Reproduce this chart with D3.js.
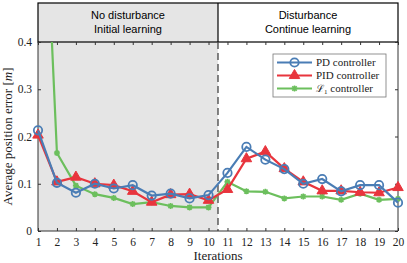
<!DOCTYPE html>
<html>
<head>
<meta charset="utf-8">
<script src="https://cdn.jsdelivr.net/npm/d3@7"></script>
<style>
  body { margin: 0; background: #fff; }
  svg { display: block; }
</style>
</head>
<body>
<div id="chart"></div>
<script>
// iterations and average position error per controller
var iterations = d3.range(1, 21);
var pdErr  = [0.213, 0.102, 0.081, 0.100, 0.090, 0.097, 0.075, 0.079, 0.069, 0.076,
              0.123, 0.178, 0.151, 0.131, 0.100, 0.110, 0.084, 0.097, 0.097, 0.060];
var pidErr = [0.203, 0.104, 0.114, 0.100, 0.097, 0.084, 0.061, 0.077, 0.078, 0.065,
              0.088, 0.153, 0.168, 0.132, 0.104, 0.085, 0.085, 0.082, 0.081, 0.092];
var l1Err  = [1.05, 0.165, 0.096, 0.078, 0.070, 0.057, 0.061, 0.053, 0.050, 0.050,
              0.104, 0.084, 0.083, 0.069, 0.073, 0.073, 0.066, 0.079, 0.066, 0.068];
var yTicks = [0, 0.1, 0.2, 0.3, 0.4];
var phaseLabels = [["No disturbance", "Initial learning"], ["Disturbance", "Continue learning"]];
var seriesNames = ["PD controller", "PID controller", "controller"];

var W = 407, H = 263;
var margin = {top: 42, right: 9, bottom: 32, left: 38},
    width = W - margin.left - margin.right,
    height = H - margin.top - margin.bottom;

var serif = "'Liberation Serif', 'DejaVu Serif', serif";
var sans = "'Liberation Sans', Arial, sans-serif";

var svg = d3.select("#chart").append("svg")
    .attr("width", W)
    .attr("height", H);

var g = svg.append("g")
    .attr("transform", "translate(" + margin.left + "," + margin.top + ")");

var x = d3.scaleLinear().domain([1, 20]).range([0, width]);
var y = d3.scaleLinear().domain([0, 0.4]).range([height, 0]);

var split = 10.5;

// gray background for first phase
g.append("rect")
    .attr("x", 0).attr("y", 0)
    .attr("width", x(split)).attr("height", height)
    .attr("fill", "#e5e5e5");

// header boxes
var headTop = 3 - margin.top;
var head = g.append("g");
head.append("rect")
    .attr("x", 0).attr("y", headTop)
    .attr("width", x(split)).attr("height", -headTop)
    .attr("fill", "#e5e5e5");
head.append("rect")
    .attr("x", 0).attr("y", headTop)
    .attr("width", width).attr("height", -headTop)
    .attr("fill", "none").attr("stroke", "#000").attr("stroke-width", 1.2);
head.append("line")
    .attr("x1", x(split)).attr("x2", x(split))
    .attr("y1", headTop).attr("y2", 0)
    .attr("stroke", "#000").attr("stroke-width", 1.2);
var centers = [x(split) / 2, (x(split) + width) / 2];
phaseLabels.forEach(function(lines, i) {
  lines.forEach(function(t, j) {
    head.append("text")
      .attr("x", centers[i])
      .attr("y", headTop + 16 + j * 14)
      .attr("text-anchor", "middle")
      .style("font-family", sans)
      .style("font-size", "11px")
      .text(t);
  });
});

// dashed separator
g.append("line")
    .attr("x1", x(split)).attr("x2", x(split))
    .attr("y1", 0).attr("y2", height)
    .attr("stroke", "#444").attr("stroke-width", 1.3)
    .attr("stroke-dasharray", "7,4");

// axes
var axisStyle = function(sel) {
  sel.select(".domain").remove();
  sel.selectAll("line").attr("stroke", "#333");
  sel.selectAll("text")
    .style("font-family", serif)
    .style("font-size", "11.5px")
    .attr("fill", "#222");
};

g.append("g")
    .attr("transform", "translate(0," + height + ")")
    .call(d3.axisBottom(x).tickValues(iterations).tickFormat(d3.format("d"))
          .tickSizeInner(-3).tickSizeOuter(0).tickPadding(7))
    .call(axisStyle);

g.append("g")
    .call(d3.axisTop(x).tickValues(iterations).tickFormat("")
          .tickSizeInner(-3).tickSizeOuter(0))
    .call(axisStyle);

g.append("g")
    .call(d3.axisLeft(y).tickValues(yTicks).tickFormat(function(d) { return d === 0 ? "0" : d3.format(".1f")(d); })
          .tickSizeInner(-3).tickSizeOuter(0).tickPadding(6))
    .call(axisStyle);

g.append("g")
    .attr("transform", "translate(" + width + ",0)")
    .call(d3.axisRight(y).tickValues(yTicks).tickFormat("")
          .tickSizeInner(-3).tickSizeOuter(0))
    .call(axisStyle);

// plot frame
g.append("path")
    .attr("d", "M0,0V" + height + "H" + width + "V0")
    .attr("fill", "none").attr("stroke", "#333").attr("stroke-width", 1);

// clip
svg.append("defs").append("clipPath").attr("id", "clip")
  .append("rect").attr("x", -6).attr("y", 0).attr("width", width + 12).attr("height", height + 6);

var plot = g.append("g").attr("clip-path", "url(#clip)");

var series = [
  {name: seriesNames[0], values: pdErr,  color: "#4a7db5", marker: "circle"},
  {name: seriesNames[1], values: pidErr, color: "#e8353d", marker: "triangle"},
  {name: seriesNames[2], values: l1Err,  color: "#6cbf5d", marker: "star"}
];

var line = d3.line()
    .x(function(d, i) { return x(iterations[i]); })
    .y(function(d) { return y(d); });

function drawMarker(sel, s) {
  if (s.marker === "circle") {
    sel.append("circle").attr("r", 4.2)
      .attr("fill", "none").attr("stroke", s.color).attr("stroke-width", 1.8);
  } else if (s.marker === "triangle") {
    sel.append("path").attr("d", d3.symbol(d3.symbolTriangle, 48)())
      .attr("fill", s.color).attr("stroke", s.color).attr("stroke-width", 1);
  } else {
    sel.append("path").attr("d", "M-3,0H3M0,-3V3M-2.2,-2.2L2.2,2.2M-2.2,2.2L2.2,-2.2")
      .attr("stroke", s.color).attr("stroke-width", 1.6).attr("fill", "none");
  }
}

// draw green first, then red, then blue
[series[2], series[1], series[0]].forEach(function(s) {
  plot.append("path")
    .datum(s.values)
    .attr("d", line)
    .attr("fill", "none")
    .attr("stroke", s.color)
    .attr("stroke-width", 2.2);
  plot.selectAll(null)
    .data(s.values)
    .enter().append("g")
    .attr("transform", function(d, i) { return "translate(" + x(iterations[i]) + "," + y(d) + ")"; })
    .each(function() { drawMarker(d3.select(this), s); });
});

// legend
var lg = g.append("g").attr("transform", "translate(235,12)");
lg.append("rect")
    .attr("x", 0).attr("y", 0).attr("width", 113).attr("height", 43)
    .attr("fill", "#fff").attr("stroke", "#777").attr("stroke-width", 0.8);
series.forEach(function(s, i) {
  var row = lg.append("g").attr("transform", "translate(0," + (8.5 + i * 13) + ")");
  row.append("line").attr("x1", 4).attr("x2", 39).attr("y1", 0).attr("y2", 0)
    .attr("stroke", s.color).attr("stroke-width", 2.2);
  var m = row.append("g").attr("transform", "translate(21.5,0)");
  drawMarker(m, s);
  var t = row.append("text")
    .attr("x", 43).attr("y", 3.8)
    .style("font-family", serif)
    .style("font-size", "11px")
    .attr("fill", "#222");
  if (i === 2) {
    t.append("tspan").style("font-family", "'DejaVu Serif', serif").style("font-size", "10px").text("\u2112");
    t.append("tspan").attr("dy", 2).style("font-size", "7px").text("1");
    t.append("tspan").attr("dy", -2).text(" " + s.name);
  } else {
    t.text(s.name);
  }
});

// axis labels
var yl = svg.append("text")
    .attr("transform", "translate(12," + (margin.top + height / 2) + ") rotate(-90)")
    .attr("text-anchor", "middle")
    .style("font-family", serif)
    .style("font-size", "13px")
    .attr("fill", "#222");
yl.append("tspan").text("Average position error [");
yl.append("tspan").style("font-style", "italic").text("m");
yl.append("tspan").text("]");

svg.append("text")
    .attr("x", margin.left + width / 2)
    .attr("y", H - 3)
    .attr("text-anchor", "middle")
    .style("font-family", serif)
    .style("font-size", "13px")
    .attr("fill", "#222")
    .text("Iterations");
</script>
</body>
</html>
